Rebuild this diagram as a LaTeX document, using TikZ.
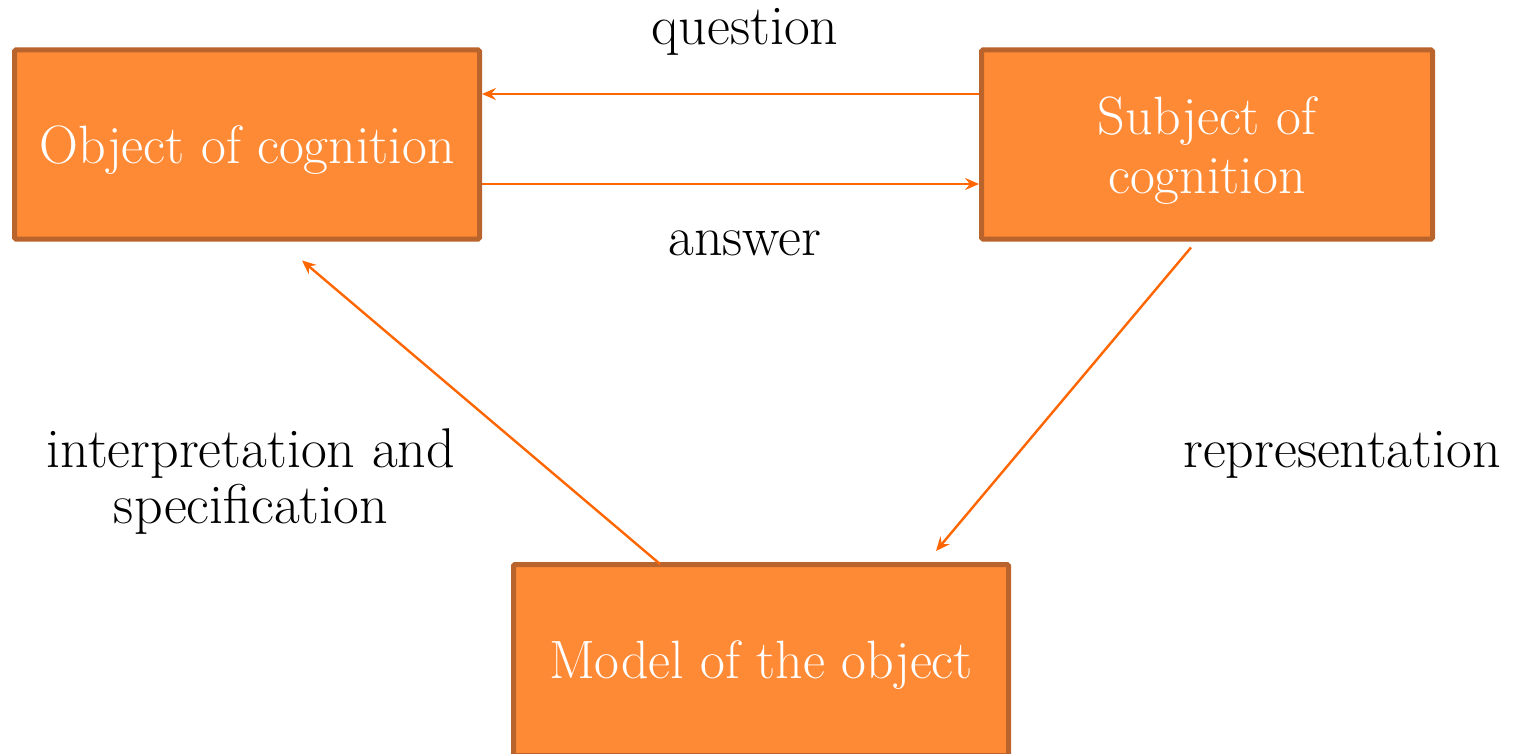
\documentclass[tikz,border=0pt]{standalone}
\usetikzlibrary{arrows.meta}
\definecolor{boxfill}{HTML}{FF8A36}
\definecolor{boxline}{HTML}{B9632D}
\definecolor{arrowc}{HTML}{FF6600}
\begin{document}
\begin{tikzpicture}[x=1pt,y=1pt,
  box/.style={draw=boxline,fill=boxfill,line width=5pt,rounded corners=1.5pt,
    text=white,font=\fontsize{54}{59}\selectfont,inner sep=0pt},
  conn/.style={draw=arrowc,line width=2.4pt,-{Stealth[length=14pt,width=12pt,inset=5pt]}},
  lbl/.style={text=black,align=center,font=\fontsize{56}{56}\selectfont,inner sep=0pt}]
\useasboundingbox (0,0) rectangle (1523,-754);
\clip (0,0) rectangle (1523,-754);
\node[box,minimum width=465pt,minimum height=189pt,text height=45pt,text depth=6pt] (obj) at (247,-144.5) {Object of cognition};
\node[box,minimum width=451pt,minimum height=189pt,text height=56pt,text depth=76pt] (sub) at (1207,-144.5)
  {\begin{tabular}[t]{@{}c@{}}Subject of\\cognition\end{tabular}};
\node[box,minimum width=495pt,minimum height=191pt,text height=42pt,text depth=6pt] (mod) at (761,-660) {Model of the object};
\draw[conn] ([yshift=50.5pt]sub.west) -- ([yshift=50.5pt]obj.east);
\draw[conn] ([yshift=-39.5pt]obj.east) -- ([yshift=-39.5pt]sub.west);
\draw[conn] ([xshift=-16pt,yshift=-6pt]sub.south) -- ([xshift=175pt,yshift=11pt]mod.north);
\draw[conn] ([xshift=-101pt,yshift=-2pt]mod.north) -- ([xshift=55pt,yshift=-19pt]obj.south);
\node[lbl] (q) at (745,-32) {question};
\node[lbl] (a) at (745,-243) {answer};
\node[lbl] (r) at (1342,-455) {representation};
\node[lbl] (i) at (251,-482) {interpretation and\\specification};
\end{tikzpicture}
\end{document}
